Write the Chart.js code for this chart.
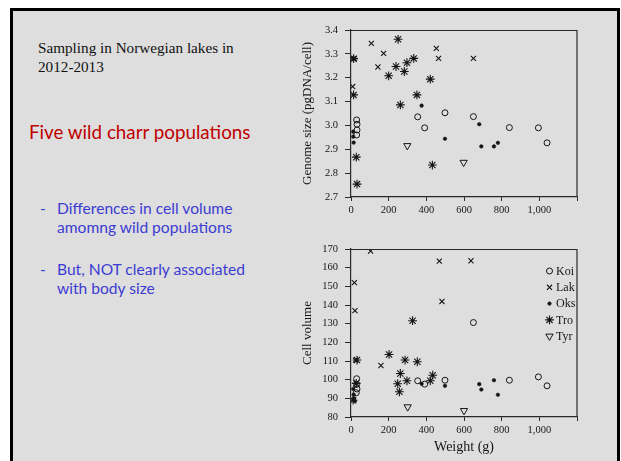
<!DOCTYPE html>
<html>
<head>
<meta charset="utf-8">
<script src="https://cdn.jsdelivr.net/npm/chart.js@4.4.1/dist/chart.umd.min.js"></script>
<style>
  html, body { margin: 0; padding: 0; background: #fff; }
  body { width: 621px; height: 461px; position: relative; overflow: hidden; }
  #slide { position: absolute; left: 10px; top: 8px; width: 604px; height: 470px;
           border: 3px solid #000; background: #dedede; }
  .t { position: absolute; white-space: nowrap; line-height: 1; }
  .serif { font-family: "Liberation Serif", serif; font-size: 15.2px; color: #111; }
  .red { font-family: Lato, sans-serif; font-size: 18.8px; color: #c00000; }
  .blue { font-family: Lato, sans-serif; font-size: 15.6px; color: #3c3cd2; }
  canvas { position: absolute; }
</style>
</head>
<body>
<div id="slide"></div>
<div class="t serif" style="left:38px; top:40px;">Sampling in Norwegian lakes in</div>
<div class="t serif" style="left:38px; top:58.5px;">2012-2013</div>
<div class="t red" style="left:29px; top:123px;">Five wild charr populations</div>
<div class="t blue" style="left:40px; top:201px;">-</div>
<div class="t blue" style="left:57px; top:201px;">Differences in cell volume</div>
<div class="t blue" style="left:57px; top:220px;">amomng wild populations</div>
<div class="t blue" style="left:40px; top:262px;">-</div>
<div class="t blue" style="left:57px; top:262px;">But, NOT clearly associated</div>
<div class="t blue" style="left:57px; top:281px;">with body size</div>
<canvas id="genomeChart" width="310" height="200" style="left:290px; top:15px;"></canvas>
<canvas id="volumeChart" width="310" height="231" style="left:290px; top:230px;"></canvas>
<script>
// genome size (top plot)
const gKoiW = [30, 32, 32, 30, 354, 391, 499, 650, 841, 995, 1041];
const gKoiY = [3.023, 3.005, 2.981, 2.960, 3.036, 2.990, 3.053, 3.037, 2.991, 2.990, 2.927];
const gLakW = [12, 18, 9, 108, 143, 173, 453, 465, 650];
const gLakY = [3.28, 3.28, 3.163, 3.344, 3.245, 3.302, 3.323, 3.281, 3.281];
const gOksW = [12, 12, 14, 375, 499, 681, 692, 759, 780];
const gOksY = [2.974, 2.953, 2.928, 3.083, 2.944, 3.005, 2.912, 2.912, 2.927];
const gTroW = [14, 14, 28, 32, 200, 239, 250, 262, 283, 297, 333, 350, 421, 432];
const gTroY = [3.28, 3.128, 2.867, 2.754, 3.208, 3.247, 3.361, 3.086, 3.226, 3.263, 3.281, 3.128, 3.194, 2.834];
const gTyrW = [299, 598];
const gTyrY = [2.915, 2.845];

// cell volume (bottom plot)
const vKoiW = [30, 30, 32, 28, 354, 391, 499, 650, 841, 995, 1041];
const vKoiY = [100.5, 97.5, 95, 93, 99.4, 97.6, 99.7, 130.6, 99.7, 101.5, 96.7];
const vLakW = [18, 21, 24, 104, 159, 469, 483, 637];
const vLakY = [152, 137, 110.5, 168.9, 107.6, 163.5, 141.9, 163.7];
const vOksW = [12, 14, 16, 20, 375, 499, 681, 692, 759, 780];
const vOksY = [95, 92, 90, 88.5, 97.8, 96.7, 97.6, 94.7, 99.7, 91.9];
const vTroW = [11, 28, 32, 202, 248, 257, 262, 287, 297, 327, 352, 421, 434];
const vTroY = [89, 98, 110.5, 113.5, 97.8, 93.5, 103.3, 110.5, 99.4, 131.6, 109.6, 99.4, 102.4];
const vTyrW = [301, 600];
const vTyrY = [85.4, 83.4];

const populations = ['Koi', 'Lak', 'Oks', 'Tro', 'Tyr'];
const weightTicks = [0, 200, 400, 600, 800, 1000, 1200];

const ink = '#151515';
const serif = '"Liberation Serif", "Times New Roman", serif';

function pts(xs, ys) {
    return xs.map((x, i) => ({ x: x, y: ys[i] }));
}

// marker look for each population
const markers = {
    Koi: { pointStyle: 'circle', pointRadius: 3, backgroundColor: 'rgba(0,0,0,0)', borderWidth: 1 },
    Lak: { pointStyle: 'crossRot', pointRadius: 3.6, backgroundColor: ink, borderWidth: 1.1 },
    Oks: { pointStyle: 'circle', pointRadius: 1.8, backgroundColor: ink, borderWidth: 0.5 },
    Tro: { pointStyle: 'star', pointRadius: 4.4, backgroundColor: ink, borderWidth: 1.1 },
    Tyr: { pointStyle: 'triangle', pointRadius: 4.2, pointRotation: 180, backgroundColor: 'rgba(0,0,0,0)', borderWidth: 1 }
};

function makeSets(series) {
    return series.map((s, i) => Object.assign({
        label: populations[i],
        data: pts(s[0], s[1]),
        borderColor: ink,
        pointHoverRadius: 4
    }, markers[populations[i]]));
}

// top + right frame around the plot
const framePlugin = {
    id: 'frame',
    afterDraw(chart) {
        const a = chart.chartArea, ctx = chart.ctx;
        ctx.save();
        ctx.strokeStyle = '#2a2a2a';
        ctx.lineWidth = 1.2;
        ctx.beginPath();
        ctx.moveTo(a.left, a.top + 0.5);
        ctx.lineTo(a.right, a.top + 0.5);
        ctx.lineTo(a.right, a.bottom);
        ctx.stroke();
        ctx.restore();
    }
};

// legend drawn inside the plot, top right
const keyPlugin = {
    id: 'key',
    afterDraw(chart) {
        const a = chart.chartArea, ctx = chart.ctx;
        ctx.save();
        chart.data.datasets.forEach((ds, i) => {
            const x = a.right - 27.5, y = a.top + 22 + i * 16.3;
            ctx.strokeStyle = ds.borderColor;
            ctx.fillStyle = ds.backgroundColor;
            ctx.lineWidth = ds.borderWidth;
            Chart.helpers.drawPoint(ctx, {
                pointStyle: ds.pointStyle, rotation: ds.pointRotation || 0,
                radius: ds.pointRadius, borderWidth: ds.borderWidth
            }, x, y);
            ctx.fillStyle = ink;
            ctx.font = '12px ' + serif;
            ctx.textBaseline = 'middle';
            ctx.fillText(ds.label, x + 6.5, y + 0.5);
        });
        ctx.restore();
    }
};

function makeOptions(yMin, yMax, yStep, yTitle, yFmt, xTitle, xHeight, padTop) {
    return {
        responsive: false,
        animation: false,
        layout: { padding: { top: padTop, right: 23, left: 0, bottom: 0 } },
        plugins: { legend: { display: false }, tooltip: { enabled: false } },
        scales: {
            x: {
                type: 'linear', min: 0, max: 1200,
                afterBuildTicks: s => { s.ticks = weightTicks.map(v => ({ value: v })); },
                afterFit: s => { s.height = xHeight; },
                ticks: {
                    color: ink, padding: 3, maxRotation: 0,
                    font: { family: serif, size: 10.5 },
                    callback: v => v === 1200 ? '' : v.toLocaleString('en-US')
                },
                grid: { drawOnChartArea: false, tickLength: 4, color: '#2a2a2a' },
                border: { color: '#2a2a2a', width: 1.2 },
                title: {
                    display: !!xTitle, text: xTitle, color: ink,
                    font: { family: serif, size: 14 }, padding: { top: 0, bottom: 5 }
                }
            },
            y: {
                min: yMin, max: yMax,
                afterFit: s => { s.width = 61; },
                ticks: {
                    stepSize: yStep, color: ink, padding: 7,
                    font: { family: serif, size: 10.5 },
                    callback: yFmt
                },
                grid: { drawOnChartArea: false, tickLength: 6, color: '#2a2a2a' },
                border: { color: '#2a2a2a', width: 1.2 },
                title: {
                    display: true, text: yTitle, color: ink,
                    font: { family: serif, size: 13 }, padding: { top: 10, bottom: 0 }
                }
            }
        }
    };
}

var genomeChart = new Chart(document.getElementById('genomeChart'), {
    type: 'scatter',
    data: {
        datasets: makeSets([[gKoiW, gKoiY], [gLakW, gLakY], [gOksW, gOksY], [gTroW, gTroY], [gTyrW, gTyrY]])
    },
    options: makeOptions(2.7, 3.4, 0.1, 'Genome size (pgDNA/cell)', v => v.toFixed(1), '', 18, 15),
    plugins: [framePlugin]
});

var volumeChart = new Chart(document.getElementById('volumeChart'), {
    type: 'scatter',
    data: {
        datasets: makeSets([[vKoiW, vKoiY], [vLakW, vLakY], [vOksW, vOksY], [vTroW, vTroY], [vTyrW, vTyrY]])
    },
    options: makeOptions(80, 170, 10, 'Cell volume', v => v, 'Weight (g)', 44, 19),
    plugins: [framePlugin, keyPlugin]
});
</script>
</body>
</html>
